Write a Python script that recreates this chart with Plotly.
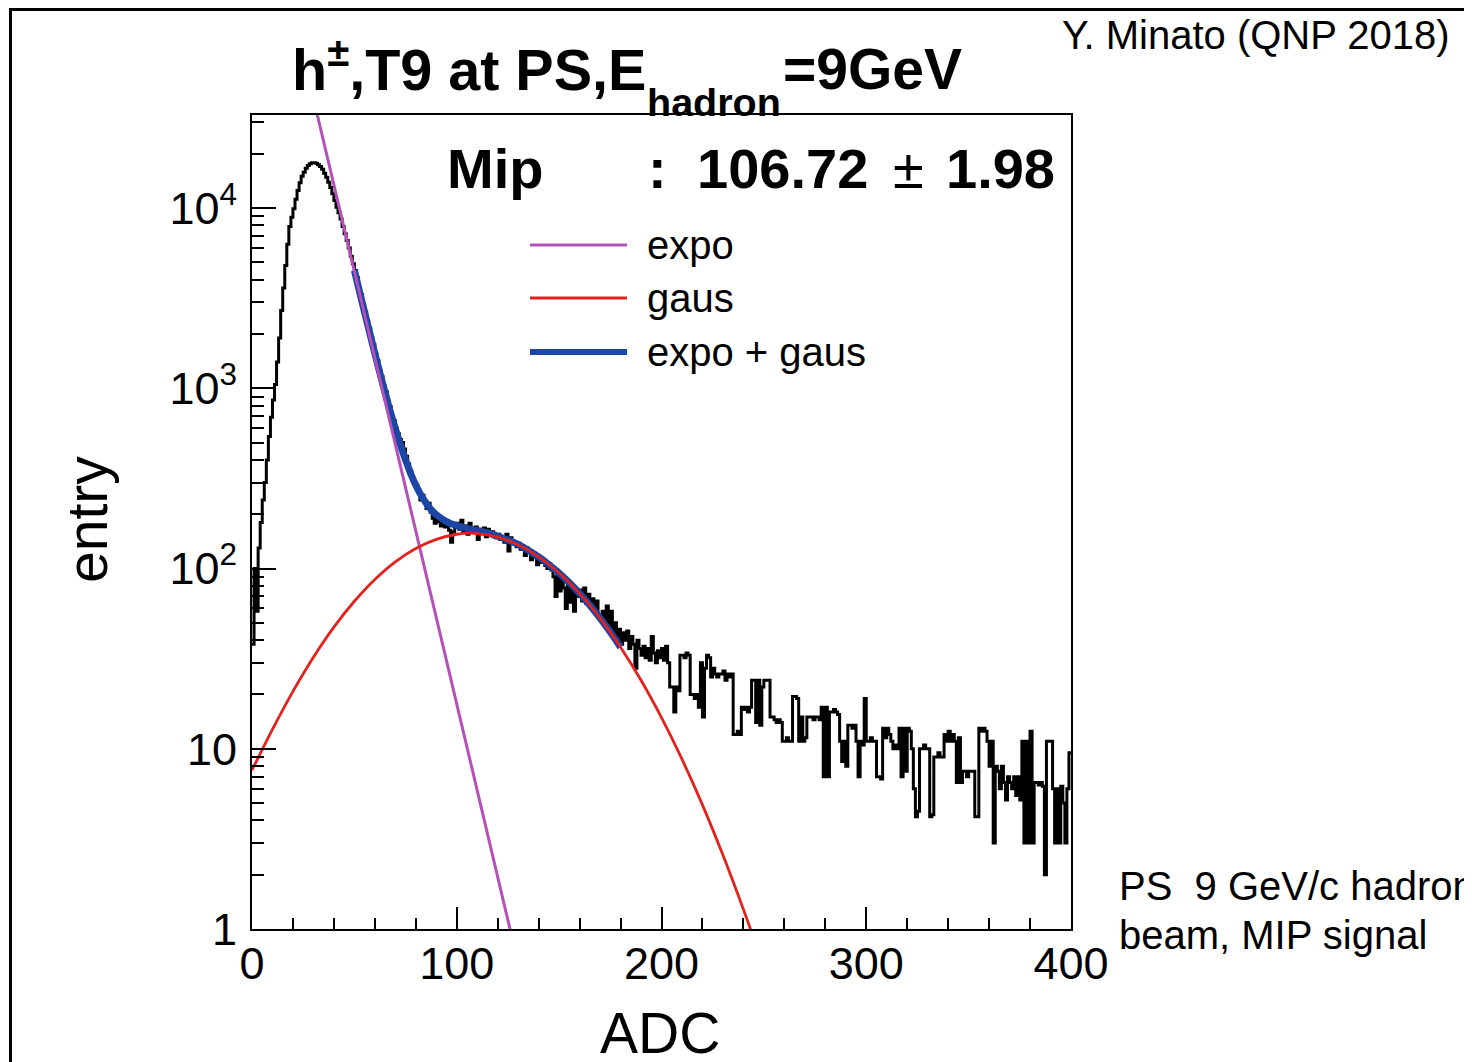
import numpy as np
import plotly.graph_objects as go

# ---------------- data ----------------
bin_width = 1.0
counts_peak = [38, 100, 58, 130, 180, 240, 300, 400, 540, 690,
               860, 1050, 1400, 1900, 2700, 3600, 4800, 6300, 7900, 8900,
               9900, 11200, 12500, 13800, 15000, 15800, 16600, 17200, 17600, 17800,
               17800, 17700, 17400, 17000, 16400, 15600, 14800, 13900, 13000, 12000,
               11000, 10100, 9400, 8700, 7900, 7200, 6600, 6000, 5400, 4900]
counts_fall = [4500, 4100, 3600, 3300, 2900, 2650, 2350, 2150, 1900, 1750,
               1550, 1420, 1260, 1160, 1030, 960, 850, 790, 700, 660,
               600, 560, 520, 500, 460, 420, 380, 350, 310, 300,
               290, 265, 240, 255, 235, 215, 230, 205, 190, 178,
               195, 182, 172, 188, 170, 175, 163, 140, 160, 172]
counts_mid = [178, 165, 185, 160, 172, 155, 178, 165, 160, 170,
              145, 165, 158, 168, 150, 165, 155, 160, 150, 148,
              155, 145, 150, 140, 155, 125, 148, 138, 140, 132,
              138, 128, 133, 118, 130, 125, 112, 122, 115, 105,
              115, 108, 110, 104, 100, 106, 98, 90, 70, 95,
              75, 88, 78, 60, 85, 65, 80, 58, 75, 70,
              76, 66, 78, 64, 72, 62, 68, 58, 66, 55,
              52, 58, 48, 62, 45, 58, 44, 50, 42, 46,
              38, 44, 40, 45, 36, 42, 38, 28, 40, 36,
              33, 37, 32, 36, 31, 42, 34, 30, 35, 32]
counts_tail = [36, 31, 37, 30, 22, 22, 16, 22, 21, 33,
               33, 32, 34, 33, 20, 20, 19, 20, 17, 30,
               15, 28, 33, 32, 25, 28, 26, 25, 26, 26,
               27, 24, 26, 25, 26, 12, 12, 12.5, 12, 17,
               16.5, 17, 16, 17, 24, 24, 14, 24, 13.5, 22,
               24, 24, 24, 15, 15, 14.5, 14, 14.5, 14, 11,
               11, 11.5, 11, 11, 19.5, 19.5, 19, 11, 15, 11,
               11.5, 15, 15, 15, 14.5, 15, 15, 14.5, 17, 7,
               17, 7, 16, 16, 16.5, 16, 15.5, 11, 8.5, 11,
               8, 13.5, 13.5, 13, 13.5, 11, 7, 11, 10.5, 19,
               11, 11, 11.5, 11, 11, 7, 7, 6.8, 13, 11.5,
               13, 12, 11, 10, 10.5, 10, 13, 7, 13, 7.5,
               13, 12.5, 10, 6, 4.2, 4.5, 10, 10, 10.5, 10,
               10, 4.2, 4.3, 9, 9, 9.5, 9, 9, 12, 11,
               12.5, 11, 12, 11, 6.5, 11.5, 6.5, 7.5, 7.5, 7,
               7.5, 7.5, 7.5, 4.2, 4.2, 13, 12.5, 13, 12.5, 11,
               8, 11, 3, 8, 7.5, 6, 8, 6.5, 5.2, 7,
               6.5, 6, 7, 5.5, 7, 5.2, 11, 3, 11, 3,
               12.5, 3, 6.5, 6.5, 6.3, 6.5, 6.2, 2, 11, 11,
               11, 6, 3, 6, 3, 6.2, 5, 3, 6, 9.5]

expo_x = [30, 130]
expo_y = [40550, 0.643]

gaus_x = [0, 10, 20, 30, 40, 50, 60, 70, 80, 90, 100, 106.72, 110, 120, 130,
          140, 150, 160, 170, 180, 190, 200, 210, 220, 230, 240, 245, 250]
gaus_y = [7.6, 12.8, 20.8, 32.2, 47.3, 65.8, 87.0, 109.0, 129.1, 145.2, 154.9, 157,
          156.3, 149.3, 135.3, 116.1, 94.4, 72.8, 53.1, 36.6, 24.0, 14.9, 8.75,
          4.88, 2.57, 1.285, 0.89, 0.6]

total_x = [50, 52, 55, 58, 60, 63, 65, 68, 70, 73, 75, 78, 80, 83, 85, 88, 90, 95,
           100, 105, 110, 115, 120, 125, 130, 135, 140, 145, 150, 155, 160, 165,
           170, 175, 180]
total_y = [4510, 3635, 2635, 1920, 1559, 1150, 945, 712, 597, 465, 400, 326, 290,
           250, 231, 209, 199, 182, 173, 167, 162, 158, 151, 144, 136, 126, 116,
           105, 94.4, 83.4, 72.8, 62.5, 53.1, 44.4, 36.6]

x_tickvals = [0, 100, 200, 300, 400]
y_tickvals = [1, 10, 100, 1000, 10000]
y_ticktext = ["1", "10", "10<sup>2</sup>", "10<sup>3</sup>", "10<sup>4</sup>"]

legend_labels = ["expo", "gaus", "expo + gaus"]

# ---------------- figure ----------------
FONT = "Liberation Sans, Arial, Helvetica, sans-serif"
C_EXPO = "#B450B8"
C_GAUS = "#E3221E"
C_TOT = "#1C46A6"

counts = counts_peak + counts_fall + counts_mid + counts_tail
edges = np.arange(len(counts) + 1) * bin_width
hist_y = counts + [counts[-1]]

fig = go.Figure()
fig.add_trace(go.Scatter(x=edges, y=hist_y, mode="lines", line=dict(color="black", width=3, shape="hv"),
                         showlegend=False, hoverinfo="skip"))
fig.add_trace(go.Scatter(x=total_x, y=total_y, mode="lines", line=dict(color=C_TOT, width=7, shape="spline"),
                         showlegend=False))
fig.add_trace(go.Scatter(x=expo_x, y=expo_y, mode="lines", line=dict(color=C_EXPO, width=3),
                         showlegend=False))
fig.add_trace(go.Scatter(x=gaus_x, y=gaus_y, mode="lines", line=dict(color=C_GAUS, width=2.8, shape="spline"),
                         showlegend=False))

# the page has an 8px body margin: figure is drawn at (8, 8)
OFF = 8
W, H = 1472 - OFF, 1062 - OFF
PL, PR, PT, PB = 252, 1071, 115, 929   # plot area in page pixels
L, T = PL - OFF, PT - OFF
R, B = W - (PR - OFF), H - (PB - OFF)
PW, PH = PR - PL, PB - PT


def px(x):
    return (x - PL) / PW


def py(y):
    return (PB - y) / PH


def ann(text, x, y, size, xanchor="left", **kw):
    return dict(text=text, xref="paper", yref="paper", x=px(x), y=py(y), xanchor=xanchor,
                yanchor="middle", showarrow=False, font=dict(size=size, color="black", family=FONT), **kw)


annotations = [
    ann("<b>h<sup>±</sup>,T9 at PS,E</b>", 290, 66, 57.5),
    ann("<b>hadron</b>", 645, 102, 39.5),
    ann("<b>=9GeV</b>", 781, 69, 57),
    ann("<b>Mip</b>", 445, 168, 56),
    ann("<b>:</b>", 646, 168, 56),
    ann("<b>106.72</b>", 695, 168, 56),
    ann("±", 891, 168, 56),
    ann("<b>1.98</b>", 944, 168, 56),
    ann("entry", 87, 520, 57, xanchor="center", textangle=-90),
    ann("ADC", 660, 1033, 57, xanchor="center"),
    ann("Y. Minato (QNP 2018)", 1060, 35, 40),
    ann("PS  9 GeV/c hadron", 1117, 886, 40),
    ann("beam, MIP signal", 1117, 935, 40),
]
shapes = [
    dict(type="rect", xref="paper", yref="paper", x0=px(10.5), x1=px(1490), y0=py(1080), y1=py(9.5),
         line=dict(color="black", width=3), fillcolor="rgba(0,0,0,0)", layer="above"),
]
leg_y = [245, 298, 352]
leg_col = [C_EXPO, C_GAUS, C_TOT]
leg_w = [3, 3, 6]
for lab, yy, col, lw in zip(legend_labels, leg_y, leg_col, leg_w):
    shapes.append(dict(type="line", xref="paper", yref="paper", x0=px(530), x1=px(627), y0=py(yy), y1=py(yy),
                       line=dict(color=col, width=lw)))
    annotations.append(ann(lab, 645, yy, 40))

axis_common = dict(showline=True, linecolor="black", linewidth=2, mirror=True, ticks="inside",
                   tickwidth=2, tickcolor="black", showgrid=False, zeroline=False,
                   tickfont=dict(size=45, color="black", family=FONT))

x_minor = [v for v in range(20, 400, 20) if v % 100 != 0]
y_minor = [m * 10 ** k for k in range(0, 4) for m in range(2, 10)] + [20000, 30000]

fig.update_layout(
    width=W, height=H,
    margin=dict(l=L, r=R, t=T, b=B),
    paper_bgcolor="white", plot_bgcolor="white",
    showlegend=False,
    font=dict(family=FONT, color="black"),
    xaxis=dict(range=[0, 400], tickmode="array", tickvals=x_tickvals, ticklen=22,
               ticklabelstandoff=-6,
               minor=dict(tickmode="array", tickvals=x_minor, ticks="inside", ticklen=11, tickwidth=2,
                          tickcolor="black"),
               **axis_common),
    yaxis=dict(type="log", range=[0, 4.516], tickmode="array", tickvals=y_tickvals, ticktext=y_ticktext,
               ticklen=24, ticklabelstandoff=4,
               minor=dict(tickmode="array", tickvals=y_minor, ticks="inside", ticklen=12, tickwidth=2,
                          tickcolor="black"),
               **axis_common),
    annotations=annotations,
    shapes=shapes,
)

fig.write_html("out.html")
